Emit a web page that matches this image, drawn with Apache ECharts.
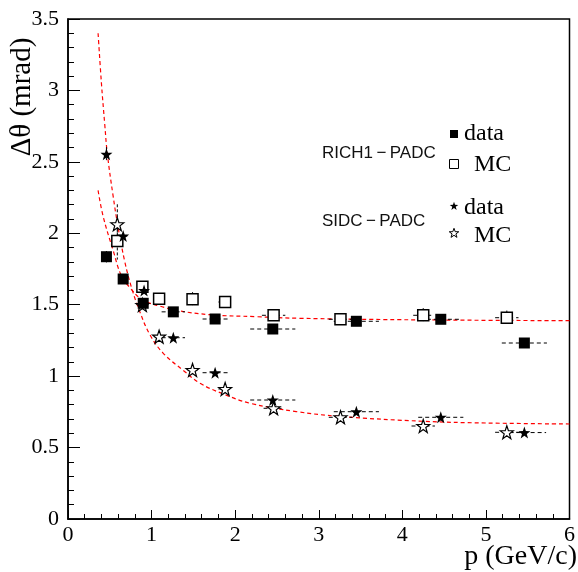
<!DOCTYPE html>
<html>
<head>
<meta charset="utf-8">
<script src="https://cdn.jsdelivr.net/npm/echarts@6/dist/echarts.min.js"></script>
<style>
html,body{margin:0;padding:0;background:#fff;}
#chart{width:578px;height:572px;}
</style>
</head>
<body>
<div id="chart"></div>
<script>
// ---- data ----
const xTicks = [0, 1, 2, 3, 4, 5, 6];
const yTicks = [0, 0.5, 1, 1.5, 2, 2.5, 3, 3.5];

// RICH1-PADC, data (filled squares)
const richDataX    = [0.46, 0.66, 0.90, 1.26, 1.76, 2.45, 3.45, 4.46, 5.46];
const richDataY    = [1.836, 1.68, 1.51, 1.45, 1.40, 1.33, 1.384, 1.398, 1.232];
const richDataXErr = [0.03, 0.06, 0.05, 0.14, 0.15, 0.27, 0.27, 0.25, 0.27];
const richDataYErr = [0.04, 0.02, 0.03, 0.02, 0.02, 0.02, 0.02, 0.02, 0.02];

// RICH1-PADC, MC (open squares)
const richMcX    = [0.59, 0.89, 1.09, 1.49, 1.88, 2.46, 3.26, 4.25, 5.25];
const richMcY    = [1.946, 1.626, 1.542, 1.538, 1.519, 1.426, 1.398, 1.426, 1.409];
const richMcXErr = [0.03, 0.04, 0.06, 0.06, 0.08, 0.14, 0.14, 0.12, 0.14];
const richMcYErr = [0.13, 0.03, 0.03, 0.05, 0.03, 0.03, 0.03, 0.05, 0.05];

// SIDC-PADC, data (filled stars)
const sidcDataX    = [0.46, 0.66, 0.91, 1.26, 1.76, 2.45, 3.45, 4.46, 5.46];
const sidcDataY    = [2.553, 1.981, 1.60, 1.269, 1.024, 0.833, 0.751, 0.712, 0.605];
const sidcDataXErr = [0.03, 0.05, 0.05, 0.14, 0.15, 0.27, 0.27, 0.27, 0.26];
const sidcDataYErr = [0.05, 0.02, 0.02, 0.01, 0.01, 0.01, 0.01, 0.01, 0.01];

// SIDC-PADC, MC (open stars)
const sidcMcX    = [0.59, 0.89, 1.09, 1.49, 1.88, 2.46, 3.26, 4.25, 5.25];
const sidcMcY    = [2.063, 1.498, 1.276, 1.043, 0.910, 0.775, 0.712, 0.651, 0.607];
const sidcMcXErr = [0.03, 0.04, 0.06, 0.06, 0.08, 0.12, 0.14, 0.14, 0.14];
const sidcMcYErr = [0.14, 0.02, 0.02, 0.02, 0.02, 0.02, 0.02, 0.02, 0.02];

// fitted curves (red dashed)
const sidcFitX = [0.36, 0.40, 0.44, 0.47, 0.54, 0.60, 0.68, 0.76, 0.86, 0.98, 1.14, 1.38, 1.58, 1.86, 2.18, 2.73, 3.26, 4.25, 5.00, 6.00];
const sidcFitY = [3.40, 3.05, 2.76, 2.56, 2.26, 2.04, 1.80, 1.62, 1.45, 1.29, 1.16, 1.04, 0.95, 0.875, 0.81, 0.752, 0.718, 0.684, 0.672, 0.665];
const richFitX = [0.36, 0.42, 0.54, 0.64, 0.74, 0.86, 0.96, 1.10, 1.30, 1.70, 2.26, 2.77, 4.00, 6.00];
const richFitY = [2.30, 2.12, 1.88, 1.70, 1.62, 1.545, 1.515, 1.49, 1.46, 1.43, 1.416, 1.405, 1.395, 1.388];

const legendGroups = ['RICH1\u2009\u2212\u2009PADC', 'SIDC\u2009\u2212\u2009PADC'];
const legendEntries = ['data', 'MC'];
const xTitle = 'p (GeV/c)';
const yTitle = '\u0394\u03b8 (mrad)';

// ---- helpers ----
const zip = (...arrs) => arrs[0].map((_, i) => arrs.map(a => a[i]));
const STAR_PTS = [[50,0],[61.76,33.82],[97.55,34.55],[69.02,56.18],[79.39,90.45],[50,70],[20.61,90.45],[30.98,56.18],[2.45,34.55],[38.24,33.82]];
const STAR = 'path://M' + STAR_PTS.map(p => p[0] + ' ' + p[1]).join(' L') + ' Z';
function starPoly(cx, cy, size) {
  return STAR_PTS.map(p => [cx + (p[0] - 50) / 100 * size, cy + (p[1] - 47) / 100 * size]);
}
const SERIF = 'Liberation Serif, Times New Roman, serif';
const SANS = 'Liberation Sans, Arial, sans-serif';

function errRender(params, api) {
  const x = api.value(0), y = api.value(1), xe = api.value(2), ye = api.value(3);
  const l = api.coord([x - xe, y]), r = api.coord([x + xe, y]);
  const t = api.coord([x, y + ye]), b = api.coord([x, y - ye]);
  return {
    type: 'group',
    children: [
      {type: 'line', shape: {x1: l[0], y1: l[1], x2: r[0], y2: r[1]},
       style: {stroke: '#000', lineWidth: 1, lineDash: [4, 3]}},
      {type: 'line', shape: {x1: t[0], y1: t[1], x2: b[0], y2: b[1]},
       style: {stroke: '#000', lineWidth: 1, lineDash: [3, 2]}}
    ]
  };
}
function errSeries(xs, ys, xe, ye) {
  return {type: 'custom', renderItem: errRender, data: zip(xs, ys, xe, ye),
          z: 3, silent: true, encode: {x: 0, y: 1}};
}

const chart = echarts.init(document.getElementById('chart'), null, {renderer: 'canvas'});

const option = {
  animation: false,
  backgroundColor: '#fff',
  grid: {left: 68, right: 8, top: 19, bottom: 53, show: true, borderColor: '#000', borderWidth: 1.5, backgroundColor: 'transparent'},
  xAxis: {
    type: 'value', min: xTicks[0], max: xTicks[xTicks.length - 1], interval: 1,
    axisLine: {show: true, onZero: false, lineStyle: {color: '#000', width: 1.5}},
    axisTick: {show: true, inside: true, length: 9, lineStyle: {color: '#000', width: 1}},
    minorTick: {show: true, splitNumber: 5, length: 5, lineStyle: {color: '#000', width: 1}},
    axisLabel: {color: '#000', fontFamily: SERIF, fontSize: 22, margin: 5, showMaxLabel: true, showMinLabel: true},
    splitLine: {show: false}
  },
  yAxis: {
    type: 'value', min: yTicks[0], max: yTicks[yTicks.length - 1], interval: 0.5,
    axisLine: {show: true, onZero: false, lineStyle: {color: '#000', width: 1.5}},
    axisTick: {show: true, inside: true, length: 12, lineStyle: {color: '#000', width: 1}},
    minorTick: {show: true, splitNumber: 5, length: 6, lineStyle: {color: '#000', width: 1}},
    axisLabel: {color: '#000', fontFamily: SERIF, fontSize: 22, margin: 9, showMaxLabel: true, showMinLabel: true},
    splitLine: {show: false}
  },
  graphic: [
    {type: 'text', x: 22, y: 97, rotation: Math.PI / 2,
     style: {text: yTitle, font: '29px ' + SERIF, fill: '#000', textAlign: 'center', textVerticalAlign: 'middle'}},
    {type: 'text', x: 577, y: 557,
     style: {text: xTitle, font: '28px ' + SERIF, fill: '#000', textAlign: 'right', textVerticalAlign: 'middle'}},
    {type: 'text', x: 322, y: 153,
     style: {text: legendGroups[0], font: '17px ' + SANS, fill: '#111', textAlign: 'left', textVerticalAlign: 'middle'}},
    {type: 'text', x: 322, y: 221,
     style: {text: legendGroups[1], font: '17px ' + SANS, fill: '#111', textAlign: 'left', textVerticalAlign: 'middle'}},
    {type: 'rect', shape: {x: 450, y: 130, width: 8, height: 8}, style: {fill: '#000'}},
    {type: 'rect', shape: {x: 449.5, y: 159.5, width: 9, height: 9}, style: {fill: '#fff', stroke: '#000', lineWidth: 1}},
    {type: 'polygon', shape: {points: starPoly(454, 206, 9)}, style: {fill: '#000'}},
    {type: 'polygon', shape: {points: starPoly(454, 233, 10)}, style: {fill: '#fff', stroke: '#000', lineWidth: 1}},
    {type: 'text', x: 464, y: 134,
     style: {text: legendEntries[0], font: '24px ' + SERIF, fill: '#000', textAlign: 'left', textVerticalAlign: 'middle'}},
    {type: 'text', x: 474, y: 165,
     style: {text: legendEntries[1], font: '24px ' + SERIF, fill: '#000', textAlign: 'left', textVerticalAlign: 'middle'}},
    {type: 'text', x: 464, y: 208,
     style: {text: legendEntries[0], font: '24px ' + SERIF, fill: '#000', textAlign: 'left', textVerticalAlign: 'middle'}},
    {type: 'text', x: 474, y: 236,
     style: {text: legendEntries[1], font: '24px ' + SERIF, fill: '#000', textAlign: 'left', textVerticalAlign: 'middle'}}
  ],
  series: [
    {type: 'line', data: zip(richFitX, richFitY), smooth: 0.4, symbol: 'none', z: 2,
     lineStyle: {color: '#ff0000', width: 1.2, type: [4, 3]}},
    {type: 'line', data: zip(sidcFitX, sidcFitY), smooth: 0.4, symbol: 'none', z: 2,
     lineStyle: {color: '#ff0000', width: 1.2, type: [4, 3]}},
    errSeries(richDataX, richDataY, richDataXErr, richDataYErr),
    errSeries(richMcX, richMcY, richMcXErr, richMcYErr),
    errSeries(sidcDataX, sidcDataY, sidcDataXErr, sidcDataYErr),
    errSeries(sidcMcX, sidcMcY, sidcMcXErr, sidcMcYErr),
    {type: 'scatter', data: zip(richMcX, richMcY), symbol: 'rect', symbolSize: 11, z: 5,
     itemStyle: {color: '#fff', borderColor: '#000', borderWidth: 1.5, opacity: 1}},
    {type: 'scatter', data: zip(sidcMcX, sidcMcY), symbol: STAR, symbolSize: 13, z: 5,
     itemStyle: {color: '#fff', borderColor: '#000', borderWidth: 1.2, opacity: 1}},
    {type: 'scatter', data: zip(richDataX, richDataY), symbol: 'rect', symbolSize: 11, z: 6,
     itemStyle: {color: '#000', opacity: 1}},
    {type: 'scatter', data: zip(sidcDataX, sidcDataY), symbol: STAR, symbolSize: 12, z: 6,
     itemStyle: {color: '#000', opacity: 1}}
  ]
};
chart.setOption(option);
</script>
</body>
</html>
